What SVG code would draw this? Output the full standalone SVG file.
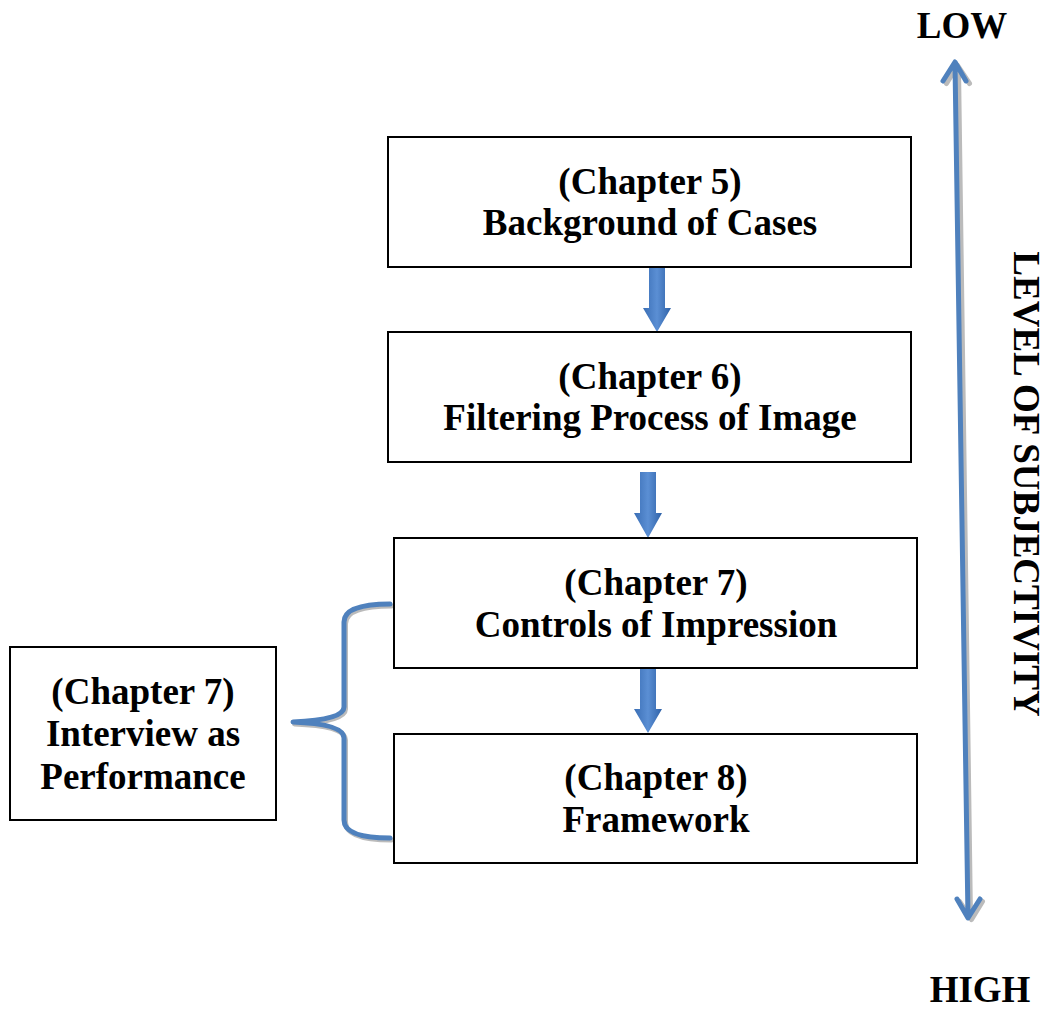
<svg xmlns="http://www.w3.org/2000/svg" width="1048" height="1009" viewBox="0 0 1048 1009">
<style>
.box{fill:#fff;stroke:#000;stroke-width:2}
.t{font-family:"Liberation Serif","Times New Roman",serif;font-weight:bold;font-size:37px;fill:#000;text-anchor:middle}
.blue{fill:none;stroke:#4F81BD;stroke-width:5;stroke-linecap:round;stroke-linejoin:round}
.shadow{fill:none;stroke:#bbb;stroke-width:5;stroke-linecap:round;stroke-linejoin:round}
</style>
<defs>
<linearGradient id="ag" x1="0" y1="0" x2="1" y2="0">
<stop offset="0" stop-color="#3A6EB5"/>
<stop offset="0.5" stop-color="#5B8FD4"/>
<stop offset="1" stop-color="#2F62A8"/>
</linearGradient>
</defs>
<g id="connectors">
<path d="M649,267 H665 V308 H671 L657,332 L643,308 H649 Z" fill="url(#ag)"/>
<path d="M640,472 H656 V513 H662 L648,538 L634,513 H640 Z" fill="url(#ag)"/>
<path d="M640,668 H656 V709 H662 L648,733 L634,709 H640 Z" fill="url(#ag)"/>
<g id="scale-arrow">
<path class="shadow" d="M957,66 L969,917 M945,82 L956,64 L968,82 M958,900 L970,918 L981,900" transform="translate(1.5,1.5)"/>
<path class="blue" d="M955,64 L968,918 M943,81 L955,62 L966,81 M957,899 L968,918 L980,899"/>
</g>
<g id="brace">
<path class="shadow" transform="translate(1.5,2)" d="M390,604 Q344,604 344,622 V707 Q344,720 293,722 Q344,724 344,738 V820 Q344,838 390,838"/>
<path class="blue" d="M390,604 Q344,604 344,622 V707 Q344,720 293,722 Q344,724 344,738 V820 Q344,838 390,838"/>
</g>
</g>
<g id="n1"><rect class="box" x="388" y="137" width="523" height="130"/><text class="t" x="650" y="194">(Chapter 5)</text><text class="t" x="650" y="235">Background of Cases</text></g>
<g id="n2"><rect class="box" x="388" y="332" width="523" height="130"/><text class="t" x="650" y="389">(Chapter 6)</text><text class="t" x="650" y="430">Filtering Process of Image</text></g>
<g id="n3"><rect class="box" x="394" y="538" width="523" height="130"/><text class="t" x="656" y="595">(Chapter 7)</text><text class="t" x="656" y="637">Controls of Impression</text></g>
<g id="n4"><rect class="box" x="394" y="734" width="523" height="129"/><text class="t" x="656" y="790">(Chapter 8)</text><text class="t" x="656" y="832">Framework</text></g>
<g id="n5"><rect class="box" x="10" y="647" width="266" height="173"/><text class="t" x="143" y="704">(Chapter 7)</text><text class="t" x="143" y="746">Interview as</text><text class="t" x="143" y="789">Performance</text></g>
<g id="labels">
<text class="t" x="962" y="38">LOW</text>
<text class="t" x="980" y="1002">HIGH</text>
<text class="t" transform="translate(1014,484) rotate(90)" x="0" y="0">LEVEL OF SUBJECTIVITY</text>
</g>
</svg>
